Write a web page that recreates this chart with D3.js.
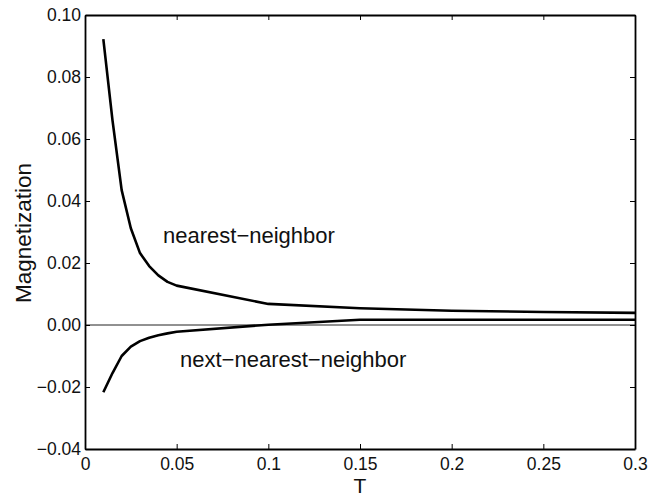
<!DOCTYPE html>
<html>
<head>
<meta charset="utf-8">
<script src="https://cdn.jsdelivr.net/npm/d3@7"></script>
<style>
  html, body { margin: 0; padding: 0; background: #fff; }
  svg { display: block; font-family: "Liberation Sans", Arial, Helvetica, sans-serif; }
</style>
</head>
<body>
<svg id="chart" width="649" height="498"></svg>
<script>
// ---- data ----
const temperatures = [0.01, 0.015, 0.02, 0.025, 0.03, 0.035, 0.04, 0.045, 0.05, 0.1, 0.15, 0.2, 0.25, 0.3];
const nearestNeighbor = [0.0922, 0.066, 0.0435, 0.0312, 0.0232, 0.019, 0.016, 0.0139, 0.0127, 0.0068, 0.0054, 0.0046, 0.0042, 0.0039];
const nextNearestNeighbor = [-0.0217, -0.0155, -0.0100, -0.0070, -0.0052, -0.0041, -0.0033, -0.0027, -0.0022, 0.0001, 0.0017, 0.0017, 0.0017, 0.0017];
const xTicks = [0, 0.05, 0.1, 0.15, 0.2, 0.25, 0.3];
const xTickLabels = ["0", "0.05", "0.1", "0.15", "0.2", "0.25", "0.3"];
const yTicks = [-0.04, -0.02, 0.00, 0.02, 0.04, 0.06, 0.08, 0.10];
const yTickLabels = ["\u22120.04", "\u22120.02", "0.00", "0.02", "0.04", "0.06", "0.08", "0.10"];
const seriesLabels = ["nearest\u2212neighbor", "next\u2212nearest\u2212neighbor"];
const xTitle = "T";
const yTitle = "Magnetization";

// ---- layout ----
const W = 649, H = 498;
const margin = { left: 85, right: 14, top: 15, bottom: 49 };
const svg = d3.select("#chart");

const x = d3.scaleLinear().domain([0, 0.3]).range([margin.left, W - margin.right]);
const y = d3.scaleLinear().domain([-0.04, 0.10]).range([H - margin.bottom, margin.top]);

const tickLen = 5;
const tickFont = 17.5;

// zero line
svg.append("line")
  .attr("x1", x(0)).attr("x2", x(0.3))
  .attr("y1", y(0)).attr("y2", y(0))
  .attr("stroke", "#222").attr("stroke-width", 1);

// series lines
const line = d3.line().x(d => x(d[0])).y(d => y(d[1]));
[nearestNeighbor, nextNearestNeighbor].forEach(vals => {
  svg.append("path")
    .datum(temperatures.map((t, i) => [t, vals[i]]))
    .attr("fill", "none")
    .attr("stroke", "#000")
    .attr("stroke-width", 2.6)
    .attr("stroke-linejoin", "round")
    .attr("d", line);
});

// axes (inward ticks, box)
const axisBottom = d3.axisBottom(x).tickValues(xTicks).tickFormat((d, i) => xTickLabels[i])
  .tickSizeInner(-tickLen).tickSizeOuter(0).tickPadding(9);
const axisTop = d3.axisTop(x).tickValues(xTicks).tickFormat("")
  .tickSizeInner(-tickLen).tickSizeOuter(0);
const axisLeft = d3.axisLeft(y).tickValues(yTicks).tickFormat((d, i) => yTickLabels[i])
  .tickSizeInner(-tickLen).tickSizeOuter(0).tickPadding(4);
const axisRight = d3.axisRight(y).tickValues(yTicks).tickFormat("")
  .tickSizeInner(-tickLen).tickSizeOuter(0);

function style(g) {
  g.select(".domain").attr("stroke", "#000").attr("stroke-width", 1.8);
  g.selectAll(".tick line").attr("stroke", "#000").attr("stroke-width", 1);
  g.selectAll(".tick text").attr("fill", "#111").attr("font-size", tickFont)
    .attr("font-family", "Liberation Sans, Arial, sans-serif");
}
svg.append("g").attr("transform", `translate(0,${H - margin.bottom})`).call(axisBottom).call(style);
svg.append("g").attr("transform", `translate(0,${margin.top})`).call(axisTop).call(style);
svg.append("g").attr("transform", `translate(${margin.left},0)`).call(axisLeft).call(style);
svg.append("g").attr("transform", `translate(${W - margin.right},0)`).call(axisRight).call(style);

// titles
svg.append("text")
  .attr("x", x(0.15)).attr("y", 493)
  .attr("text-anchor", "middle")
  .attr("font-size", 21).attr("fill", "#111")
  .text(xTitle);
svg.append("text")
  .attr("transform", `translate(31,${233}) rotate(-90)`)
  .attr("text-anchor", "middle")
  .attr("font-size", 22.5).attr("fill", "#111")
  .text(yTitle);

// annotations
svg.append("text")
  .attr("x", 163).attr("y", 243)
  .attr("font-size", 22).attr("fill", "#111")
  .text(seriesLabels[0]);
svg.append("text")
  .attr("x", 180).attr("y", 367)
  .attr("font-size", 22).attr("fill", "#111")
  .text(seriesLabels[1]);
</script>
</body>
</html>
